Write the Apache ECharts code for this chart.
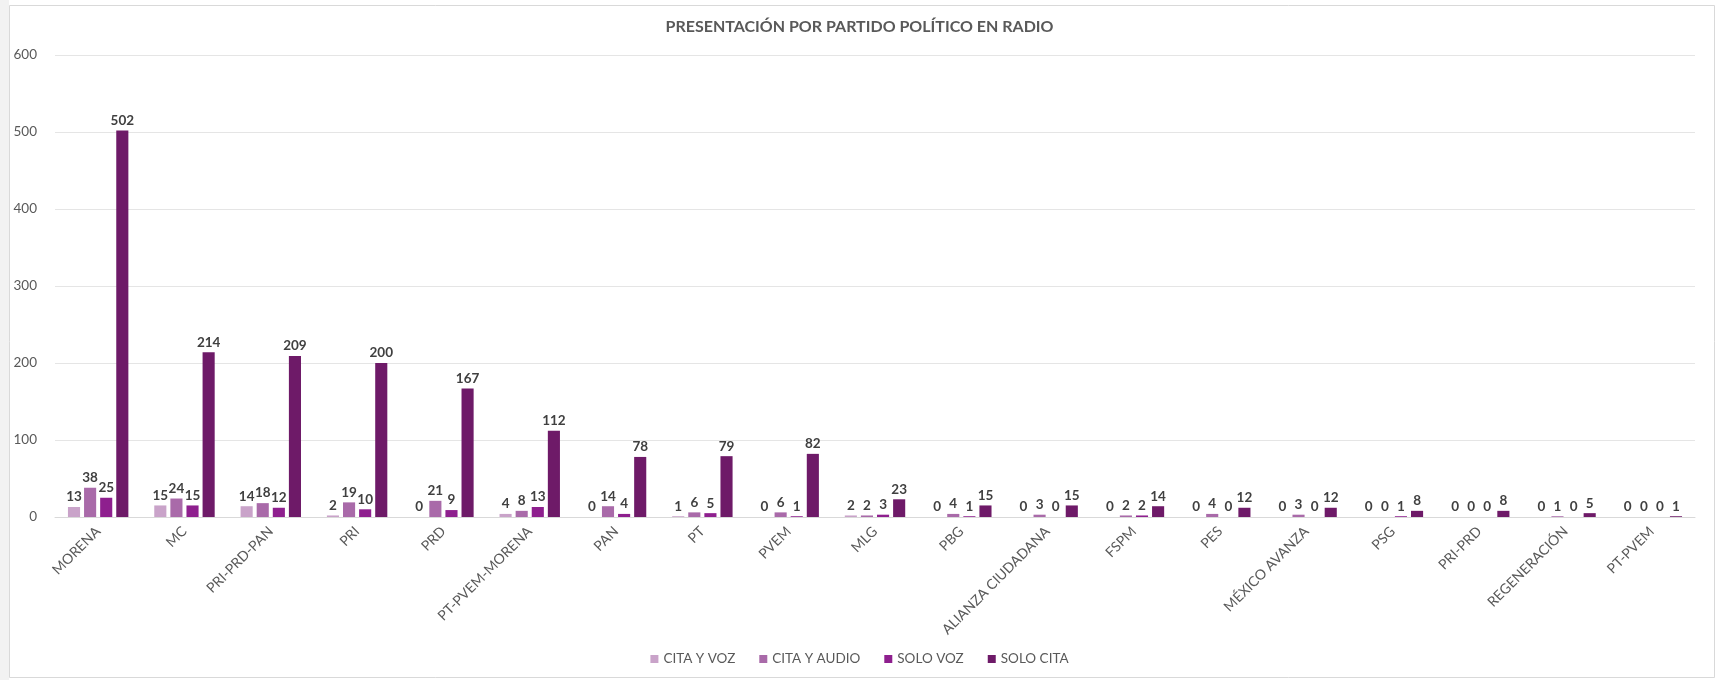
<!DOCTYPE html>
<html>
<head>
<meta charset="utf-8">
<script src="https://cdn.jsdelivr.net/npm/echarts@6/dist/echarts.min.js"></script>
<style>
html,body{margin:0;padding:0;background:#fff;}
#chart{width:1719px;height:680px;}
</style>
</head>
<body>
<div id="chart"></div>
<script>
const categories = ['MORENA','MC','PRI-PRD-PAN','PRI','PRD','PT-PVEM-MORENA','PAN','PT','PVEM','MLG','PBG','ALIANZA CIUDADANA','FSPM','PES','MÉXICO AVANZA','PSG','PRI-PRD','REGENERACIÓN','PT-PVEM'];
const seriesNames = ['CITA Y VOZ','CITA Y AUDIO','SOLO VOZ','SOLO CITA'];
const citaYVoz   = [13,15,14,2,0,4,0,1,0,2,0,0,0,0,0,0,0,0,0];
const citaYAudio = [38,24,18,19,21,8,14,6,6,2,4,3,2,4,3,0,0,1,0];
const soloVoz    = [25,15,12,10,9,13,4,5,1,3,1,0,2,0,0,1,0,0,0];
const soloCita   = [502,214,209,200,167,112,78,79,82,23,15,15,14,12,12,8,8,5,1];
const yTicks = [0,100,200,300,400,500,600];

const colors = ['#c9a3c9','#a96aa9','#8e1f8e','#6e1a68'];
const seriesData = [citaYVoz, citaYAudio, soloVoz, soloCita];
const font = 'Lato, "Open Sans", sans-serif';

const chart = echarts.init(document.getElementById('chart'), null, {renderer:'canvas'});
chart.setOption({
  backgroundColor:'#ffffff',
  animation:false,
  textStyle:{fontFamily:font},
  title:{
    text:'PRESENTACIÓN POR PARTIDO POLÍTICO EN RADIO',
    left:'center', top:14,
    textStyle:{fontFamily:font, fontSize:16, fontWeight:'bold', color:'#595959'}
  },
  legend:{
    data:seriesNames,
    bottom:9, left:'center',
    itemWidth:8, itemHeight:8, itemGap:24,
    icon:'rect',
    textStyle:{fontFamily:font, fontSize:13.5, color:'#595959'}
  },
  graphic:[
    {type:'rect', shape:{x:9.5,y:5.5,width:1705,height:672}, style:{fill:null, stroke:'#d9d9d9', lineWidth:1}, silent:true},
    {type:'rect', shape:{x:0,y:0,width:9,height:680}, style:{fill:'#f2f2f2'}, silent:true}
  ],
  grid:{left:55, right:24, top:55, bottom:163, containLabel:false},
  xAxis:{
    type:'category',
    data:categories,
    axisLine:{lineStyle:{color:'#d9d9d9', width:1}},
    axisTick:{show:false},
    axisLabel:{rotate:45, interval:0, fontFamily:font, fontSize:14, color:'#595959', margin:12}
  },
  yAxis:{
    type:'value',
    min:yTicks[0], max:yTicks[yTicks.length-1], interval:100,
    axisLine:{show:false}, axisTick:{show:false},
    axisLabel:{fontFamily:font, fontSize:13.5, color:'#595959', margin:18},
    splitLine:{lineStyle:{color:'#e5e5e5', width:1}}
  },
  series: seriesNames.map((n,i)=>({
    name:n,
    type:'bar',
    data:seriesData[i],
    barGap:'33%',
    barCategoryGap:'30%',
    itemStyle:{color:colors[i]},
    label:{show:true, position:'top', distance:3, fontFamily:font, fontSize:13.5, fontWeight:'bold', color:'#404040'}
  }))
});
</script>
</body>
</html>
